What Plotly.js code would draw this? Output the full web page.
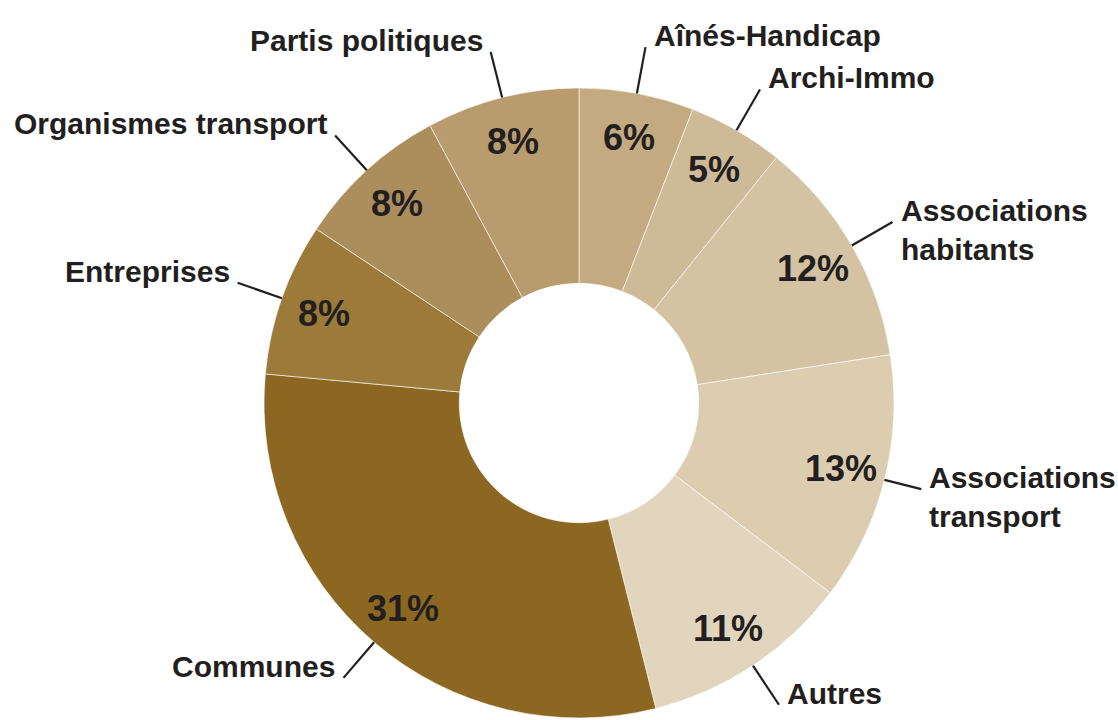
<!DOCTYPE html>
<html><head><meta charset="utf-8">
<script src="https://cdn.plot.ly/plotly-3.0.1.min.js"></script>
<style>html,body{margin:0;padding:0;background:#fff}#chart{width:1118px;height:720px}</style>
</head><body><div id="chart"></div>
<script>
// ---- data ----
const categories = ['Aînés-Handicap','Archi-Immo','Associations habitants','Associations transport','Autres','Communes','Entreprises','Organismes transport','Partis politiques'];
const sharePct = [6, 5, 12, 13, 11, 31, 8, 8, 8];
const labelLines = [['Aînés-Handicap'],['Archi-Immo'],['Associations','habitants'],['Associations','transport'],['Autres'],['Communes'],['Entreprises'],['Organismes transport'],['Partis politiques']];
const sliceColors = ['#c3aa80','#cfba97','#d4c3a2','#dccdb0','#e2d5be','#8b6721','#9c7a3a','#ac8d5c','#b89c6e'];

// ---- layout geometry ----
const W = 1118, H = 720;
const CX = 579, CY = 403, R = 315, HOLE = 0.38;
const LEADER = 47, PCT_R = 270, GAP = 6;
const FONT = '"Liberation Sans", Arial, Helvetica, sans-serif';
const INK = '#231f20';

const ctx = document.createElement('canvas').getContext('2d');
ctx.font = 'bold 30px "Liberation Sans", Arial, sans-serif';

const total = sharePct.reduce((a, b) => a + b, 0);
const px2x = p => p / W, px2y = p => 1 - p / H;
const pt = (ang, r) => [CX + r * Math.sin(ang), CY - r * Math.cos(ang)];

const annotations = [], shapes = [];
let cum = 0;
sharePct.forEach((v, i) => {
  const mid = 2 * Math.PI * (cum + v / 2) / total;
  cum += v;
  // percentage inside the ring
  const [tx, ty] = pt(mid, PCT_R);
  annotations.push({xref:'paper', yref:'paper', x:px2x(tx), y:px2y(ty), xanchor:'center', yanchor:'middle',
    showarrow:false, text:'<b>' + v + '%</b>', font:{family:FONT, size:36, color:INK}});
  // label position, kept inside the page
  const right = Math.sin(mid) > 0;
  const textW = Math.max(...labelLines[i].map(s => ctx.measureText(s).width));
  let [bx, by] = pt(mid, R + LEADER);
  let lx = right ? bx + GAP : bx - GAP;
  if (right && lx + textW + 4 > W) {
    lx = W - textW - 4;
    const r2 = (lx - GAP - CX) / Math.sin(mid);
    [bx, by] = pt(mid, r2);
  }
  if (!right && lx - textW - 4 < 0) {
    lx = textW + 4;
    const r2 = (lx + GAP - CX) / Math.sin(mid);
    [bx, by] = pt(mid, r2);
  }
  // leader line
  const [ax, ay] = pt(mid, R);
  shapes.push({type:'line', xref:'paper', yref:'paper', x0:px2x(ax), y0:px2y(ay), x1:px2x(bx), y1:px2y(by),
    line:{color:INK, width:2.2}, layer:'above'});
  // category label
  annotations.push({xref:'paper', yref:'paper', x:px2x(lx), y:px2y(by - 30),
    xanchor: right ? 'left' : 'right', yanchor:'top', align: right ? 'left' : 'right',
    showarrow:false, text:'<b>' + labelLines[i].join('<br>') + '</b>',
    font:{family:FONT, size:30, color:INK}});
});

const trace = {
  type:'pie', labels:categories, values:sharePct, sort:false, direction:'clockwise', rotation:0,
  hole:HOLE, textinfo:'none', hoverinfo:'label+percent',
  marker:{colors:sliceColors, line:{color:'rgba(255,255,255,0.75)', width:0.8}},
  domain:{x:[(CX - R) / W, (CX + R) / W], y:[1 - (CY + R) / H, 1 - (CY - R) / H]}
};

Plotly.newPlot('chart', [trace], {
  width:W, height:H, margin:{l:0, r:0, t:0, b:0}, showlegend:false,
  paper_bgcolor:'#ffffff', plot_bgcolor:'#ffffff',
  annotations, shapes
}, {displayModeBar:false, staticPlot:true});
</script>
</body></html>
